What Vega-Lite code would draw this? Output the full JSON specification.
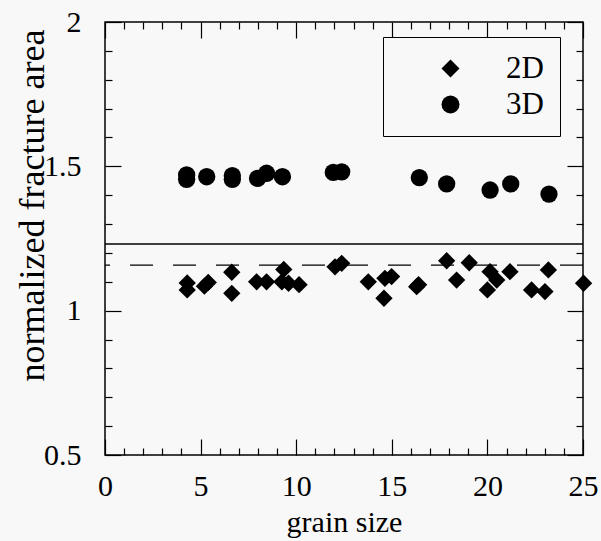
{
  "$schema": "https://vega.github.io/schema/vega-lite/v6.json",
  "width": 478,
  "height": 433,
  "autosize": "none",
  "padding": {"left": 105, "top": 22, "right": 18, "bottom": 86},
  "background": "#f8f8f8",
  "config": {
    "font": "Liberation Serif",
    "view": {"stroke": "black", "strokeWidth": 1.5},
    "axis": {"domain": false, "grid": false, "ticks": true, "tickColor": "black", "tickWidth": 1.2, "labelColor": "black", "titleColor": "black", "labelFont": "Liberation Serif", "titleFont": "Liberation Serif", "titleFontWeight": "normal", "labelFlush": false}
  },
  "datasets": {
    "pts": [
      {"grain": 4.3, "area": 1.096, "series": "2D"},
      {"grain": 4.3, "area": 1.072, "series": "2D"},
      {"grain": 5.2, "area": 1.085, "series": "2D"},
      {"grain": 5.4, "area": 1.098, "series": "2D"},
      {"grain": 6.63, "area": 1.133, "series": "2D"},
      {"grain": 6.63, "area": 1.06, "series": "2D"},
      {"grain": 7.93, "area": 1.1, "series": "2D"},
      {"grain": 8.45, "area": 1.1, "series": "2D"},
      {"grain": 9.35, "area": 1.143, "series": "2D"},
      {"grain": 9.25, "area": 1.1, "series": "2D"},
      {"grain": 9.6, "area": 1.095, "series": "2D"},
      {"grain": 10.15, "area": 1.09, "series": "2D"},
      {"grain": 12.03, "area": 1.152, "series": "2D"},
      {"grain": 12.38, "area": 1.164, "series": "2D"},
      {"grain": 13.77, "area": 1.1, "series": "2D"},
      {"grain": 14.64, "area": 1.112, "series": "2D"},
      {"grain": 14.99, "area": 1.118, "series": "2D"},
      {"grain": 14.59, "area": 1.043, "series": "2D"},
      {"grain": 16.3, "area": 1.083, "series": "2D"},
      {"grain": 16.4, "area": 1.09, "series": "2D"},
      {"grain": 17.87, "area": 1.173, "series": "2D"},
      {"grain": 19.05, "area": 1.166, "series": "2D"},
      {"grain": 18.39, "area": 1.106, "series": "2D"},
      {"grain": 20.14, "area": 1.135, "series": "2D"},
      {"grain": 20.49, "area": 1.106, "series": "2D"},
      {"grain": 20.0, "area": 1.072, "series": "2D"},
      {"grain": 21.18, "area": 1.135, "series": "2D"},
      {"grain": 23.19, "area": 1.141, "series": "2D"},
      {"grain": 22.31, "area": 1.072, "series": "2D"},
      {"grain": 23.01, "area": 1.066, "series": "2D"},
      {"grain": 25.03, "area": 1.095, "series": "2D"},
      {"grain": 4.27, "area": 1.455, "series": "3D"},
      {"grain": 4.27, "area": 1.47, "series": "3D"},
      {"grain": 5.32, "area": 1.464, "series": "3D"},
      {"grain": 6.66, "area": 1.455, "series": "3D"},
      {"grain": 6.66, "area": 1.468, "series": "3D"},
      {"grain": 7.98, "area": 1.458, "series": "3D"},
      {"grain": 8.45, "area": 1.476, "series": "3D"},
      {"grain": 9.28, "area": 1.464, "series": "3D"},
      {"grain": 11.94, "area": 1.479, "series": "3D"},
      {"grain": 12.38, "area": 1.481, "series": "3D"},
      {"grain": 16.44, "area": 1.461, "series": "3D"},
      {"grain": 17.87, "area": 1.439, "series": "3D"},
      {"grain": 20.14, "area": 1.418, "series": "3D"},
      {"grain": 21.22, "area": 1.439, "series": "3D"},
      {"grain": 23.22, "area": 1.404, "series": "3D"}
    ],
    "lines": [
      {"level": 1.231, "kind": "solid"},
      {"level": 1.158, "kind": "dashed"}
    ]
  },
  "layer": [
    {
      "data": {"name": "lines"},
      "transform": [{"filter": "datum.kind === 'solid'"}],
      "mark": {"type": "rule", "color": "black", "strokeWidth": 1.6},
      "encoding": {
        "y": {"field": "level", "type": "quantitative", "scale": {"domain": [0.5, 2], "nice": false, "zero": false}, "axis": null}
      }
    },
    {
      "data": {"name": "lines"},
      "transform": [{"filter": "datum.kind === 'dashed'"}],
      "mark": {"type": "rule", "color": "black", "strokeWidth": 1.2, "strokeDash": [23, 20]},
      "encoding": {
        "y": {"field": "level", "type": "quantitative", "scale": {"domain": [0.5, 2], "nice": false, "zero": false}, "axis": null}
      }
    },
    {
      "data": {"name": "pts"},
      "mark": {"type": "point", "filled": true, "size": 300, "opacity": 1},
      "encoding": {
        "x": {
          "field": "grain", "type": "quantitative",
          "scale": {"domain": [0, 25], "nice": false, "zero": false},
          "axis": {
            "orient": "bottom",
            "offset": -16,
            "values": [0, 5, 10, 15, 20, 25],
            "tickSize": 16,
            "labelFontSize": 30,
            "labelPadding": 16,
            "labelOverlap": false,
            "title": "grain size",
            "titleFontSize": 30,
            "titleBaseline": "alphabetic",
            "titleY": 92
          }
        },
        "y": {
          "field": "area", "type": "quantitative",
          "scale": {"domain": [0.5, 2], "nice": false, "zero": false},
          "axis": {
            "orient": "left",
            "offset": -16,
            "values": [0.5, 1, 1.5, 2],
            "format": ".1~f",
            "tickSize": 16,
            "labelFontSize": 30,
            "labelPadding": 24,
            "labelOverlap": false,
            "title": "normalized fracture area",
            "titleFontSize": 36,
            "titleBaseline": "alphabetic",
            "titleAlign": "center",
            "titleAngle": -90,
            "titleX": -78,
            "titleY": 183
          }
        },
        "shape": {
          "field": "series", "type": "nominal",
          "scale": {"domain": ["2D", "3D"], "range": ["diamond", "circle"]},
          "legend": {
            "title": null,
            "orient": "none",
            "legendX": 278,
            "legendY": 15,
            "strokeColor": "black",
            "fillColor": "#f8f8f8",
            "padding": 16,
            "symbolOffset": 36,
            "labelOffset": 40,
            "labelFontSize": 31,
            "labelFont": "Liberation Serif",
            "labelColor": "black",
            "symbolSize": 324,
            "symbolFillColor": "black",
            "symbolStrokeColor": "black",
            "rowPadding": 4
          }
        },
        "color": {"value": "black"}
      }
    },
    {
      "data": {"name": "pts"},
      "mark": {"type": "point", "opacity": 0},
      "encoding": {
        "x": {
          "field": "grain", "type": "quantitative",
          "scale": {"domain": [0, 25], "nice": false, "zero": false},
          "axis": {"orient": "top", "offset": -16, "values": [0, 5, 10, 15, 20, 25], "tickSize": 16, "labels": false, "title": null}
        },
        "y": {
          "field": "area", "type": "quantitative",
          "scale": {"domain": [0.5, 2], "nice": false, "zero": false},
          "axis": {"orient": "right", "offset": -16, "values": [0.5, 1, 1.5, 2], "tickSize": 16, "labels": false, "title": null}
        }
      }
    },
    {
      "data": {"name": "pts"},
      "mark": {"type": "point", "opacity": 0},
      "encoding": {
        "x": {
          "field": "grain", "type": "quantitative",
          "scale": {"domain": [0, 25], "nice": false, "zero": false},
          "axis": {"orient": "bottom", "offset": -7, "values": [1,2,3,4,6,7,8,9,11,12,13,14,16,17,18,19,21,22,23,24], "tickSize": 7, "labels": false, "title": null}
        },
        "y": {
          "field": "area", "type": "quantitative",
          "scale": {"domain": [0.5, 2], "nice": false, "zero": false},
          "axis": {"orient": "left", "offset": -7, "values": [0.6,0.7,0.8,0.9,1.1,1.2,1.3,1.4,1.6,1.7,1.8,1.9], "tickSize": 7, "labels": false, "title": null}
        }
      }
    },
    {
      "data": {"name": "pts"},
      "mark": {"type": "point", "opacity": 0},
      "encoding": {
        "x": {
          "field": "grain", "type": "quantitative",
          "scale": {"domain": [0, 25], "nice": false, "zero": false},
          "axis": {"orient": "top", "offset": -7, "values": [1,2,3,4,6,7,8,9,11,12,13,14,16,17,18,19,21,22,23,24], "tickSize": 7, "labels": false, "title": null}
        },
        "y": {
          "field": "area", "type": "quantitative",
          "scale": {"domain": [0.5, 2], "nice": false, "zero": false},
          "axis": {"orient": "right", "offset": -7, "values": [0.6,0.7,0.8,0.9,1.1,1.2,1.3,1.4,1.6,1.7,1.8,1.9], "tickSize": 7, "labels": false, "title": null}
        }
      }
    }
  ],
  "resolve": {"axis": {"x": "independent", "y": "independent"}}
}
